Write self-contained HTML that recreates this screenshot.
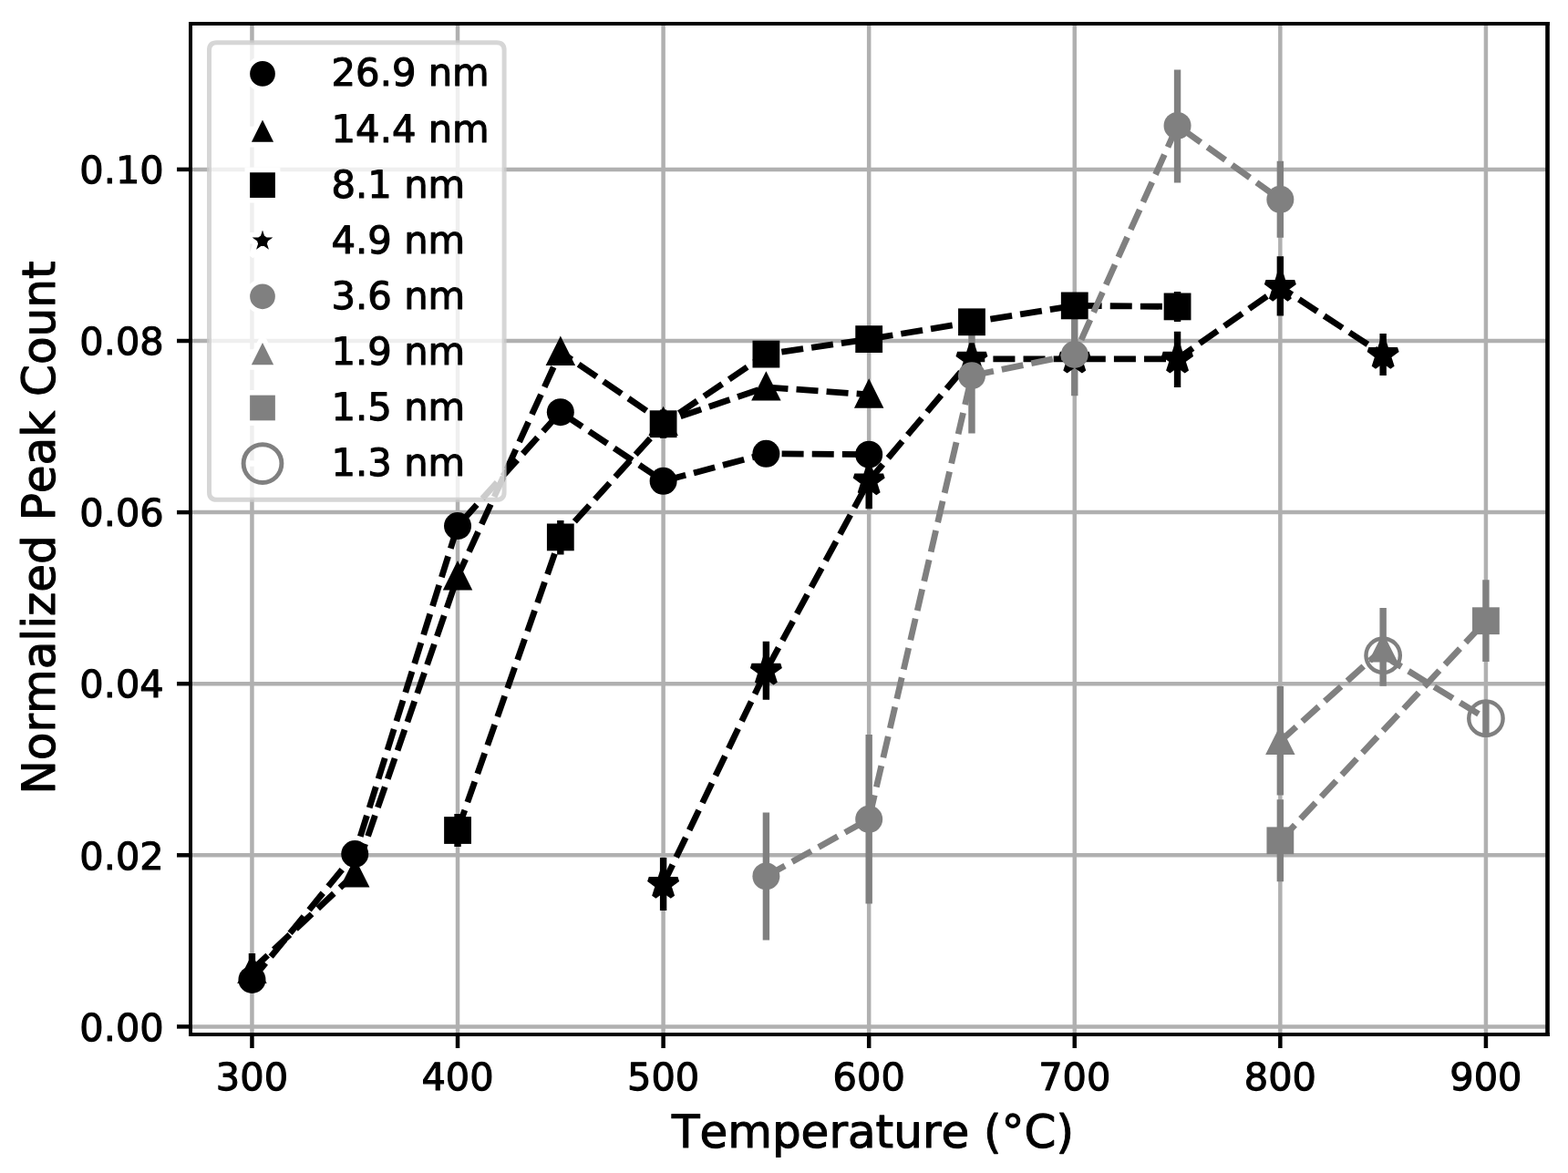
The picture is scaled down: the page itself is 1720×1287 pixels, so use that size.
<!DOCTYPE html>
<html lang="en"><head><meta charset="utf-8"><title>Normalized Peak Count vs Temperature</title>
<style>
html,body{margin:0;padding:0;background:#fff;}
body{width:1720px;height:1287px;overflow:hidden;}
svg{display:block;}
text{font-family:"DejaVu Sans","Liberation Sans",sans-serif;fill:#000;stroke:#000;stroke-width:1.1px;stroke-linejoin:round;font-kerning:none;font-variant-ligatures:none;text-rendering:geometricPrecision;}
.tick{font-size:41.5px;}
.lab{font-size:50px;}
.leg{font-size:41.7px;}
</style></head><body>
<svg width="1720" height="1287" viewBox="0 0 1720 1287">
<rect width="1720" height="1287" fill="#fff"/>
<defs><clipPath id="ax"><rect x="209.0" y="26.0" width="1488.5" height="1109.0"/></clipPath></defs>
<g stroke="#b0b0b0" stroke-width="4.5" fill="none" clip-path="url(#ax)">
<line x1="276.45" y1="26.0" x2="276.45" y2="1135.0"/>
<line x1="502.03" y1="26.0" x2="502.03" y2="1135.0"/>
<line x1="727.61" y1="26.0" x2="727.61" y2="1135.0"/>
<line x1="953.19" y1="26.0" x2="953.19" y2="1135.0"/>
<line x1="1178.77" y1="26.0" x2="1178.77" y2="1135.0"/>
<line x1="1404.35" y1="26.0" x2="1404.35" y2="1135.0"/>
<line x1="1629.93" y1="26.0" x2="1629.93" y2="1135.0"/>
<line x1="209.0" y1="1126.4" x2="1697.5" y2="1126.4"/>
<line x1="209.0" y1="938.3" x2="1697.5" y2="938.3"/>
<line x1="209.0" y1="750.2" x2="1697.5" y2="750.2"/>
<line x1="209.0" y1="562.1" x2="1697.5" y2="562.1"/>
<line x1="209.0" y1="374" x2="1697.5" y2="374"/>
<line x1="209.0" y1="185.9" x2="1697.5" y2="185.9"/>
</g>
<g fill="none" clip-path="url(#ax)">
<path d="M276.45 1046V1082" stroke="#000000" stroke-width="7.4"/>
<path d="M502.03 893V929M614.82 571V608.6M727.61 449.6V480.8M1291.56 320V352.9" stroke="#000000" stroke-width="7.4"/>
<path d="M727.61 941V999M840.4 703.8V767.8M953.19 497.5V558.2M1291.56 363.8V424.9M1404.35 281.3V346.5M1517.14 365.9V412.1" stroke="#000000" stroke-width="7.4"/>
<path d="M840.4 891.4V1031.4M953.19 806.1V991.5M1065.98 349V475.4M1178.77 343.7V434.3M1291.56 76.6V200.4M1404.35 176.8V260.8" stroke="#808080" stroke-width="7.4"/>
<path d="M1404.35 753.1V872.5M1517.14 667.1V752.7" stroke="#808080" stroke-width="7.4"/>
<path d="M1404.35 877.3V967.3M1629.93 636.2V726" stroke="#808080" stroke-width="7.4"/>
<path d="M1629.93 768V808.5" stroke="#808080" stroke-width="7.4"/>
</g>
<g clip-path="url(#ax)">
<polyline points="276.45,1074.9 389.24,937 502.03,577.1 614.82,452.2 727.61,527.8 840.4,497.8 953.19,498.7" fill="none" stroke="#000000" stroke-width="6.8" stroke-dasharray="24.0 9.125" stroke-dashoffset="0.45" stroke-linejoin="round"/>
<circle cx="276.45" cy="1074.9" r="15" fill="#000000"/>
<circle cx="389.24" cy="937" r="15" fill="#000000"/>
<circle cx="502.03" cy="577.1" r="15" fill="#000000"/>
<circle cx="614.82" cy="452.2" r="15" fill="#000000"/>
<circle cx="727.61" cy="527.8" r="15" fill="#000000"/>
<circle cx="840.4" cy="497.8" r="15" fill="#000000"/>
<circle cx="953.19" cy="498.7" r="15" fill="#000000"/>
<polyline points="276.45,1064.2 389.24,958.8 502.03,632.6 614.82,386.2 727.61,463.3 840.4,424.8 953.19,432.9" fill="none" stroke="#000000" stroke-width="6.8" stroke-dasharray="24.0 9.125" stroke-dashoffset="0.45" stroke-linejoin="round"/>
<polygon points="276.45,1051.7 263.95,1076.7 288.95,1076.7" fill="#000000" stroke="#000000" stroke-width="4.6" stroke-linejoin="miter" stroke-miterlimit="10"/>
<polygon points="389.24,946.3 376.74,971.3 401.74,971.3" fill="#000000" stroke="#000000" stroke-width="4.6" stroke-linejoin="miter" stroke-miterlimit="10"/>
<polygon points="502.03,620.1 489.53,645.1 514.53,645.1" fill="#000000" stroke="#000000" stroke-width="4.6" stroke-linejoin="miter" stroke-miterlimit="10"/>
<polygon points="614.82,373.7 602.32,398.7 627.32,398.7" fill="#000000" stroke="#000000" stroke-width="4.6" stroke-linejoin="miter" stroke-miterlimit="10"/>
<polygon points="727.61,450.8 715.11,475.8 740.11,475.8" fill="#000000" stroke="#000000" stroke-width="4.6" stroke-linejoin="miter" stroke-miterlimit="10"/>
<polygon points="840.4,412.3 827.9,437.3 852.9,437.3" fill="#000000" stroke="#000000" stroke-width="4.6" stroke-linejoin="miter" stroke-miterlimit="10"/>
<polygon points="953.19,420.4 940.69,445.4 965.69,445.4" fill="#000000" stroke="#000000" stroke-width="4.6" stroke-linejoin="miter" stroke-miterlimit="10"/>
<polyline points="502.03,911 614.82,589.4 727.61,465.2 840.4,388.6 953.19,372.1 1065.98,353.3 1178.77,335.4 1291.56,336.4" fill="none" stroke="#000000" stroke-width="6.8" stroke-dasharray="24.0 9.125" stroke-dashoffset="0.45" stroke-linejoin="round"/>
<rect x="487.13" y="896.1" width="29.8" height="29.8" fill="#000000"/>
<rect x="599.92" y="574.5" width="29.8" height="29.8" fill="#000000"/>
<rect x="712.71" y="450.3" width="29.8" height="29.8" fill="#000000"/>
<rect x="825.5" y="373.7" width="29.8" height="29.8" fill="#000000"/>
<rect x="938.29" y="357.2" width="29.8" height="29.8" fill="#000000"/>
<rect x="1051.08" y="338.4" width="29.8" height="29.8" fill="#000000"/>
<rect x="1163.87" y="320.5" width="29.8" height="29.8" fill="#000000"/>
<rect x="1276.66" y="321.5" width="29.8" height="29.8" fill="#000000"/>
<polyline points="727.61,970 840.4,735.8 953.19,527.5 1065.98,393.8 1178.77,393.8 1291.56,393.8 1404.35,314.9 1517.14,389" fill="none" stroke="#000000" stroke-width="6.8" stroke-dasharray="24.0 9.125" stroke-dashoffset="0.45" stroke-linejoin="round"/>
<polygon points="727.61,953.33 723.87,964.85 711.76,964.85 721.55,971.97 717.81,983.49 727.61,976.37 737.41,983.49 733.67,971.97 743.46,964.85 731.35,964.85" fill="#000000" stroke="#000000" stroke-width="5.6" stroke-linejoin="bevel"/>
<polygon points="840.4,719.13 836.66,730.65 824.55,730.65 834.34,737.77 830.6,749.29 840.4,742.17 850.2,749.29 846.46,737.77 856.25,730.65 844.14,730.65" fill="#000000" stroke="#000000" stroke-width="5.6" stroke-linejoin="bevel"/>
<polygon points="953.19,510.83 949.45,522.35 937.34,522.35 947.13,529.47 943.39,540.99 953.19,533.87 962.99,540.99 959.25,529.47 969.04,522.35 956.93,522.35" fill="#000000" stroke="#000000" stroke-width="5.6" stroke-linejoin="bevel"/>
<polygon points="1065.98,377.13 1062.24,388.65 1050.13,388.65 1059.92,395.77 1056.18,407.29 1065.98,400.17 1075.78,407.29 1072.04,395.77 1081.83,388.65 1069.72,388.65" fill="#000000" stroke="#000000" stroke-width="5.6" stroke-linejoin="bevel"/>
<polygon points="1178.77,377.13 1175.03,388.65 1162.92,388.65 1172.71,395.77 1168.97,407.29 1178.77,400.17 1188.57,407.29 1184.83,395.77 1194.62,388.65 1182.51,388.65" fill="#000000" stroke="#000000" stroke-width="5.6" stroke-linejoin="bevel"/>
<polygon points="1291.56,377.13 1287.82,388.65 1275.71,388.65 1285.5,395.77 1281.76,407.29 1291.56,400.17 1301.36,407.29 1297.62,395.77 1307.41,388.65 1295.3,388.65" fill="#000000" stroke="#000000" stroke-width="5.6" stroke-linejoin="bevel"/>
<polygon points="1404.35,298.23 1400.61,309.75 1388.5,309.75 1398.29,316.87 1394.55,328.39 1404.35,321.27 1414.15,328.39 1410.41,316.87 1420.2,309.75 1408.09,309.75" fill="#000000" stroke="#000000" stroke-width="5.6" stroke-linejoin="bevel"/>
<polygon points="1517.14,372.33 1513.4,383.85 1501.29,383.85 1511.08,390.97 1507.34,402.49 1517.14,395.37 1526.94,402.49 1523.2,390.97 1532.99,383.85 1520.88,383.85" fill="#000000" stroke="#000000" stroke-width="5.6" stroke-linejoin="bevel"/>
<polyline points="840.4,961.4 953.19,898.8 1065.98,412.2 1178.77,389 1291.56,137.9 1404.35,218.8" fill="none" stroke="#808080" stroke-width="6.8" stroke-dasharray="24.0 9.125" stroke-dashoffset="0.45" stroke-linejoin="round"/>
<circle cx="840.4" cy="961.4" r="15" fill="#808080"/>
<circle cx="953.19" cy="898.8" r="15" fill="#808080"/>
<circle cx="1065.98" cy="412.2" r="15" fill="#808080"/>
<circle cx="1178.77" cy="389" r="15" fill="#808080"/>
<circle cx="1291.56" cy="137.9" r="15" fill="#808080"/>
<circle cx="1404.35" cy="218.8" r="15" fill="#808080"/>
<polyline points="1404.35,813.3 1517.14,711.8" fill="none" stroke="#808080" stroke-width="6.8" stroke-dasharray="24.0 9.125" stroke-dashoffset="0.45" stroke-linejoin="round"/>
<polygon points="1404.35,800.8 1391.85,825.8 1416.85,825.8" fill="#808080" stroke="#808080" stroke-width="4.6" stroke-linejoin="miter" stroke-miterlimit="10"/>
<polygon points="1517.14,699.3 1504.64,724.3 1529.64,724.3" fill="#808080" stroke="#808080" stroke-width="4.6" stroke-linejoin="miter" stroke-miterlimit="10"/>
<polyline points="1404.35,922.3 1629.93,681.2" fill="none" stroke="#808080" stroke-width="6.8" stroke-dasharray="24.0 9.125" stroke-dashoffset="0.45" stroke-linejoin="round"/>
<rect x="1389.45" y="907.4" width="29.8" height="29.8" fill="#808080"/>
<rect x="1615.03" y="666.3" width="29.8" height="29.8" fill="#808080"/>
<polyline points="1517.14,719.2 1629.93,788.2" fill="none" stroke="#808080" stroke-width="6.8" stroke-dasharray="24.0 9.125" stroke-dashoffset="0.45" stroke-linejoin="round"/>
<circle cx="1517.14" cy="719.2" r="18.7" fill="none" stroke="#808080" stroke-width="4.4"/>
<circle cx="1629.93" cy="788.2" r="18.7" fill="none" stroke="#808080" stroke-width="4.4"/>
</g>
<g stroke="#000" stroke-width="4.5">
<line x1="276.45" y1="1135.0" x2="276.45" y2="1150"/>
<line x1="502.03" y1="1135.0" x2="502.03" y2="1150"/>
<line x1="727.61" y1="1135.0" x2="727.61" y2="1150"/>
<line x1="953.19" y1="1135.0" x2="953.19" y2="1150"/>
<line x1="1178.77" y1="1135.0" x2="1178.77" y2="1150"/>
<line x1="1404.35" y1="1135.0" x2="1404.35" y2="1150"/>
<line x1="1629.93" y1="1135.0" x2="1629.93" y2="1150"/>
<line x1="209.0" y1="1126.4" x2="194" y2="1126.4"/>
<line x1="209.0" y1="938.3" x2="194" y2="938.3"/>
<line x1="209.0" y1="750.2" x2="194" y2="750.2"/>
<line x1="209.0" y1="562.1" x2="194" y2="562.1"/>
<line x1="209.0" y1="374" x2="194" y2="374"/>
<line x1="209.0" y1="185.9" x2="194" y2="185.9"/>
</g>
<g fill="#000">
<rect x="207" y="24" width="4" height="1113"/>
<rect x="1695.2" y="24" width="4.6" height="1113"/>
<rect x="207" y="24" width="1492.8" height="4"/>
<rect x="207" y="1133" width="1492.8" height="4"/>
</g>
<text class="tick" x="276.45" y="1195.6" text-anchor="middle">300</text>
<text class="tick" x="502.03" y="1195.6" text-anchor="middle">400</text>
<text class="tick" x="727.61" y="1195.6" text-anchor="middle">500</text>
<text class="tick" x="953.19" y="1195.6" text-anchor="middle">600</text>
<text class="tick" x="1178.77" y="1195.6" text-anchor="middle">700</text>
<text class="tick" x="1404.35" y="1195.6" text-anchor="middle">800</text>
<text class="tick" x="1629.93" y="1195.6" text-anchor="middle">900</text>
<text class="tick" x="179.7" y="1141.6" text-anchor="end">0.00</text>
<text class="tick" x="179.7" y="953.5" text-anchor="end">0.02</text>
<text class="tick" x="179.7" y="765.4" text-anchor="end">0.04</text>
<text class="tick" x="179.7" y="577.3" text-anchor="end">0.06</text>
<text class="tick" x="179.7" y="389.2" text-anchor="end">0.08</text>
<text class="tick" x="179.7" y="201.1" text-anchor="end">0.10</text>
<text class="lab" x="957.45" y="1258.5" text-anchor="middle">Temperature (°C)</text>
<text class="lab" transform="translate(59.5 579) rotate(-90)" text-anchor="middle">Normalized Peak Count</text>
<path d="M237.83 46.7H544.77Q553.1 46.7 553.1 55.03V539.97Q553.1 548.3 544.77 548.3H237.83Q229.5 548.3 229.5 539.97V55.03Q229.5 46.7 237.83 46.7Z" fill="#fff" fill-opacity="0.8" stroke="#ccc" stroke-opacity="0.8" stroke-width="5"/>
<line x1="246.2" y1="80.9" x2="329.5" y2="80.9" stroke="#fff" stroke-width="6.5"/>
<circle cx="288" cy="80.9" r="16.66" fill="#000000" stroke="#fff" stroke-width="5.6"/>
<text class="leg" x="363.6" y="94.4">26.9 nm</text>
<line x1="246.2" y1="142" x2="329.5" y2="142" stroke="#fff" stroke-width="6.5"/>
<polygon points="288,125.34 271.33,158.66 304.67,158.66" fill="#000000" stroke="#fff" stroke-width="5.6" stroke-linejoin="miter" stroke-miterlimit="10"/>
<text class="leg" x="363.6" y="155.5">14.4 nm</text>
<line x1="246.2" y1="203.1" x2="329.5" y2="203.1" stroke="#fff" stroke-width="6.5"/>
<rect x="271.33" y="186.44" width="33.33" height="33.33" fill="#000000" stroke="#fff" stroke-width="5.6"/>
<text class="leg" x="363.6" y="216.6">8.1 nm</text>
<line x1="246.2" y1="264.2" x2="329.5" y2="264.2" stroke="#fff" stroke-width="6.5"/>
<polygon points="288,243.37 283.32,257.76 268.19,257.76 280.43,266.66 275.76,281.05 288,272.16 300.24,281.05 295.57,266.66 307.81,257.76 292.68,257.76" fill="#000000" stroke="#fff" stroke-width="5.6" stroke-linejoin="bevel"/>
<text class="leg" x="363.6" y="277.7">4.9 nm</text>
<line x1="246.2" y1="325.3" x2="329.5" y2="325.3" stroke="#fff" stroke-width="6.5"/>
<circle cx="288" cy="325.3" r="16.66" fill="#808080" stroke="#fff" stroke-width="5.6"/>
<text class="leg" x="363.6" y="338.8">3.6 nm</text>
<line x1="246.2" y1="386.4" x2="329.5" y2="386.4" stroke="#fff" stroke-width="6.5"/>
<polygon points="288,369.73 271.33,403.06 304.67,403.06" fill="#808080" stroke="#fff" stroke-width="5.6" stroke-linejoin="miter" stroke-miterlimit="10"/>
<text class="leg" x="363.6" y="399.9">1.9 nm</text>
<line x1="246.2" y1="447.5" x2="329.5" y2="447.5" stroke="#fff" stroke-width="6.5"/>
<rect x="271.33" y="430.83" width="33.33" height="33.33" fill="#808080" stroke="#fff" stroke-width="5.6"/>
<text class="leg" x="363.6" y="461">1.5 nm</text>
<line x1="246.2" y1="508.6" x2="329.5" y2="508.6" stroke="#fff" stroke-width="6.5"/>
<circle cx="288" cy="508.6" r="20.9" fill="none" stroke="#808080" stroke-width="4.9"/>
<text class="leg" x="363.6" y="522.1">1.3 nm</text>
</svg>
</body></html>
